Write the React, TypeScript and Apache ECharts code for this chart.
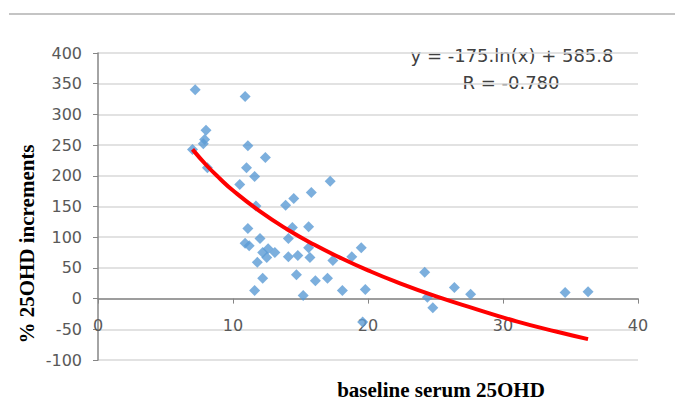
import React, { useEffect, useRef } from "react";
import * as echarts from "echarts";

const baselineX = [7.2, 10.9, 8.0, 7.9, 7.8, 7.0, 11.1, 12.4, 11.0, 8.1, 11.6, 10.5, 17.2, 15.8, 14.5, 13.9, 11.7, 11.1, 12.0, 10.9, 11.2, 14.4, 14.1, 15.6, 12.6, 13.1, 12.2, 12.5, 11.8, 14.1, 14.8, 15.7, 15.6, 17.4, 18.8, 19.5, 12.2, 11.6, 14.7, 15.2, 16.1, 17.0, 18.1, 19.8, 19.6, 24.2, 24.4, 24.8, 26.4, 27.6, 34.6, 36.3];
const incrementY = [340, 329, 274, 259, 252, 243, 249, 230, 213, 213, 199, 186, 191, 173, 163, 152, 151, 114, 98, 90, 86, 116, 98, 117, 81, 75, 75, 67, 59, 68, 70, 67, 83, 62, 68, 83, 33, 13, 39, 5, 29, 33, 13, 15, -38, 43, 2, -15, 18, 7, 10, 11];

const trendX = [7, 8, 9, 10, 12, 14, 16, 18, 20, 22, 25, 28, 31, 34, 36.3];
const trendY = [243, 218, 196, 176, 142, 113, 88, 66, 46, 28, 4, -17, -37, -54, -66];

const xTicks = [0, 10, 20, 30, 40];
const yTicks = [-100, -50, 0, 50, 100, 150, 200, 250, 300, 350, 400];

const equationText = "y = -175.ln(x) + 585.8";
const rText = "R = -0.780";
const xTitle = "baseline serum 25OHD";
const yTitle = "% 25OHD increments";

export default function App() {
  const ref = useRef<HTMLDivElement>(null);
  useEffect(() => {
    if (!ref.current) return;
    const chart = echarts.init(ref.current, undefined, { renderer: "svg" });
    const labelFont = "DejaVu Sans";
    const gridTop = 53;
    const gridBottom = 59;
    const gridHeight = 419 - gridTop - gridBottom;
    const yMin = yTicks[0];
    const yMax = yTicks[yTicks.length - 1];
    const zeroOffset = -gridHeight * (0 - yMin) / (yMax - yMin);
    chart.setOption({
      animation: false,
      backgroundColor: "#ffffff",
      grid: { left: 98, right: 37, top: gridTop, bottom: gridBottom, containLabel: false },
      xAxis: {
        type: "value",
        position: "bottom",
        offset: zeroOffset,
        min: xTicks[0],
        max: xTicks[xTicks.length - 1],
        interval: 10,
        axisLine: { onZero: false, lineStyle: { color: "#868686", width: 1.5 } },
        axisTick: { show: true, length: 5, lineStyle: { color: "#868686" } },
        axisLabel: { margin: 19, color: "#595959", fontSize: 16, fontFamily: labelFont },
        splitLine: { show: false },
      },
      yAxis: {
        type: "value",
        min: yMin,
        max: yMax,
        interval: 50,
        axisLine: { show: true, onZero: false, lineStyle: { color: "#868686", width: 1.5 } },
        axisTick: { show: true, length: 5, lineStyle: { color: "#868686" } },
        axisLabel: { margin: 16, color: "#595959", fontSize: 16, fontFamily: labelFont },
        splitLine: { show: true, lineStyle: { color: "#d9d9d9", width: 1.5 } },
      },
      series: [
        {
          type: "scatter",
          symbol: "diamond",
          symbolSize: 11,
          itemStyle: { color: "#5b9bd5" },
          data: baselineX.map((x, i) => [x, incrementY[i]]),
          z: 2,
        },
        {
          type: "line",
          smooth: true,
          showSymbol: false,
          symbol: "none",
          lineStyle: { color: "#ff0000", width: 4 },
          data: trendX.map((x, i) => [x, trendY[i]]),
          z: 3,
        },
      ],
      graphic: [
        { type: "line", shape: { x1: 9, y1: 14, x2: 675, y2: 14 }, style: { stroke: "#c4c4c4", lineWidth: 2 } },
        {
          type: "text", x: 512, y: 55,
          style: { text: equationText, fill: "#404040", font: "18px 'DejaVu Sans'", textAlign: "center", textVerticalAlign: "middle" },
        },
        {
          type: "text", x: 511, y: 82,
          style: { text: rText, fill: "#404040", font: "18px 'DejaVu Sans'", textAlign: "center", textVerticalAlign: "middle" },
        },
        {
          type: "text", x: 441, y: 390,
          style: { text: xTitle, fill: "#000000", font: "bold 21px 'Liberation Serif'", textAlign: "center", textVerticalAlign: "middle" },
        },
        {
          type: "text", x: 27, y: 244, rotation: Math.PI / 2,
          style: { text: yTitle, fill: "#000000", font: "bold 21px 'Liberation Serif'", textAlign: "center", textVerticalAlign: "middle" },
        },
      ],
    });
    return () => chart.dispose();
  }, []);
  return <div ref={ref} style={{ width: 675, height: 419, position: "absolute", left: 0, top: 0 }} />;
}
